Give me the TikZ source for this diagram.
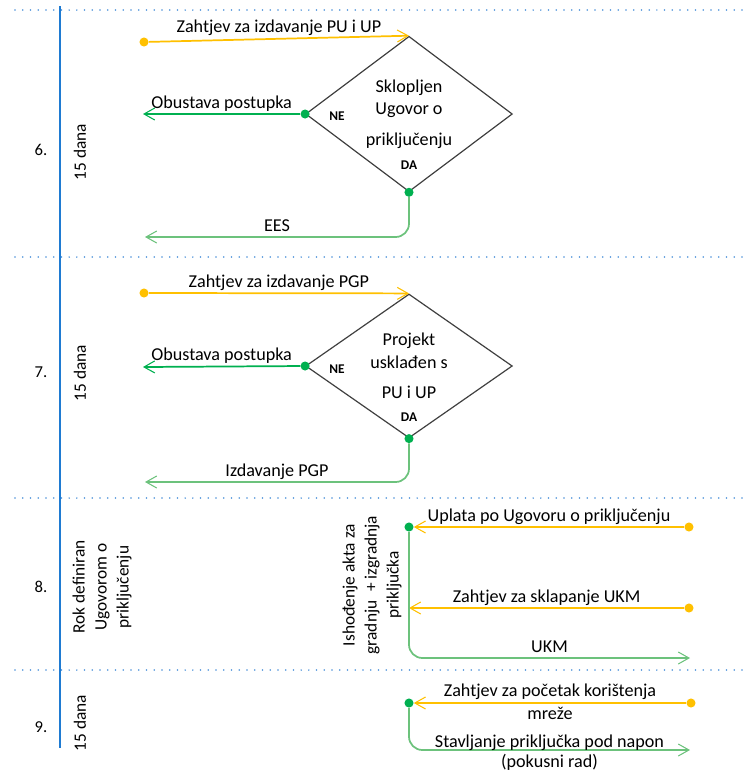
\documentclass[tikz,border=0pt]{standalone}
\usepackage{fontspec}
\setmainfont{Carlito}
\usetikzlibrary{arrows.meta,shapes.geometric}
\definecolor{flowgold}{HTML}{FFC000}
\definecolor{flowgreen}{HTML}{00B050}
\definecolor{flowpale}{HTML}{6CC27C}
\definecolor{laneblue}{HTML}{1F7BD2}
\definecolor{sepblue}{HTML}{4A90D9}
\begin{document}
\begin{tikzpicture}[x=0.75pt,y=-0.75pt,
  txt/.style={font=\fontsize{13.6}{17}\selectfont},
  lbl/.style={txt, inner sep=0pt, anchor=base, yshift=4.5pt},
  barb/.style={-{Straight Barb[length=8pt,width=9pt,line width=0.8pt]}},
  goldline/.style={draw=flowgold, line width=1.3pt, barb},
  greenline/.style={draw=flowgreen, line width=1.3pt, barb},
  paleline/.style={draw=flowpale, line width=1.3pt, barb, rounded corners=10pt},
  dotmark/.style={circle, fill=#1, inner sep=0pt, minimum size=6.8pt},
  decision/.style={diamond, draw=black!75, line width=0.9pt, minimum width=155pt,
    minimum height=108pt, inner sep=0pt, align=center, txt},
  yesno/.style={font=\bfseries\fontsize{10}{12}\selectfont, inner sep=0pt},
  rowsep/.style={draw=sepblue, line width=1.3pt, line cap=round, dash pattern=on 0pt off 5.8pt},
  rowno/.style={font=\fontsize{12.5}{15}\selectfont},
  period/.style={rotate=90, align=center, font=\fontsize{13}{16.5}\selectfont},
]
\useasboundingbox (0,0) rectangle (748,772);

% row separators and the time lane
\foreach \yy in {10,257,498,670} \draw[rowsep] (15,\yy) -- (748,\yy);
\draw[laneblue, line width=1.4pt] (60,6) -- (60,748);

% row numbers and deadlines
\node[rowno] (n6) at (41,150) {6.};
\node[rowno] (n7) at (41,372) {7.};
\node[rowno] (n8) at (41,587) {8.};
\node[rowno] (n9) at (41,727) {9.};
\node[period] (t6) at (80,152) {15 dana};
\node[period] (t7) at (80,373) {15 dana};
\node[period] (t8) at (102,587) {Rok definiran\\Ugovorom o\\priključenju};
\node[period] (t9) at (80,723) {15 dana};

% step 6
\node[dotmark=flowgold] (s6) at (144,42) {};
\node[decision] (d6) at (409,114) {Sklopljen\\Ugovor o\\[6pt]priključenju};
\draw[goldline] (s6) -- (d6.north) node[lbl, midway] {Zahtjev za izdavanje PU i UP};
\node[dotmark=flowgreen] (ne6) at (d6.west) {};
\coordinate (ob6) at (143,114);
\draw[greenline] (ne6) -- (ob6) node[lbl, midway] {Obustava postupka};
\node[yesno] (ne6t) at (337,116) {NE};
\node[yesno] (da6t) at (409,165) {DA};
\node[dotmark=flowgreen] (da6) at (d6.south) {};
\coordinate (ees6) at (145,237);
\draw[paleline] (da6) |- (ees6) node[lbl, pos=0.75] {EES};

% step 7
\node[dotmark=flowgold] (s7) at (144,293) {};
\node[decision] (d7) at (409,366) {Projekt\\usklađen s\\[6pt]PU i UP};
\draw[goldline] (s7) -- (d7.north) node[lbl, midway] {Zahtjev za izdavanje PGP};
\node[dotmark=flowgreen] (ne7) at (d7.west) {};
\coordinate (ob7) at (143,367);
\draw[greenline] (ne7) -- (ob7) node[lbl, midway] {Obustava postupka};
\node[yesno] (ne7t) at (337,369) {NE};
\node[yesno] (da7t) at (409,417) {DA};
\node[dotmark=flowgreen] (da7) at (d7.south) {};
\coordinate (pgp7) at (145,482);
\draw[paleline] (da7) |- (pgp7) node[lbl, pos=0.75] {Izdavanje PGP};

% step 8
\node[period] (w8) at (372,585) {Ishođenje akta za\\gradnju\enspace+ izgradnja\\priključka};
\node[dotmark=flowgreen] (j8) at (409,527) {};
\node[dotmark=flowgold] (u8) at (689,527) {};
\draw[goldline] (u8) -- (j8) node[lbl, midway] {Uplata po Ugovoru o priključenju};
\node[dotmark=flowgold] (k8) at (689,608) {};
\coordinate (k8end) at (409,608);
\draw[goldline] (k8) -- (k8end) node[lbl, midway] {Zahtjev za sklapanje UKM};
\coordinate (ukm8) at (690,658);
\draw[paleline] (j8) |- (ukm8) node[lbl, pos=0.75] {UKM};

% step 9
\node[dotmark=flowgreen] (j9) at (409,703) {};
\node[dotmark=flowgold] (u9) at (691,703) {};
\draw[goldline] (u9) -- (j9) node[txt, midway, align=center, inner sep=0pt, yshift=1pt]
  {Zahtjev za početak korištenja\\mreže};
\coordinate (nap9) at (690,750);
\draw[paleline] (j9) |- (nap9) node[pos=0.75, align=center, inner sep=0pt, yshift=-2pt,
  font=\fontsize{13.6}{15}\selectfont] {Stavljanje priključka pod napon\\(pokusni rad)};
\end{tikzpicture}
\end{document}
